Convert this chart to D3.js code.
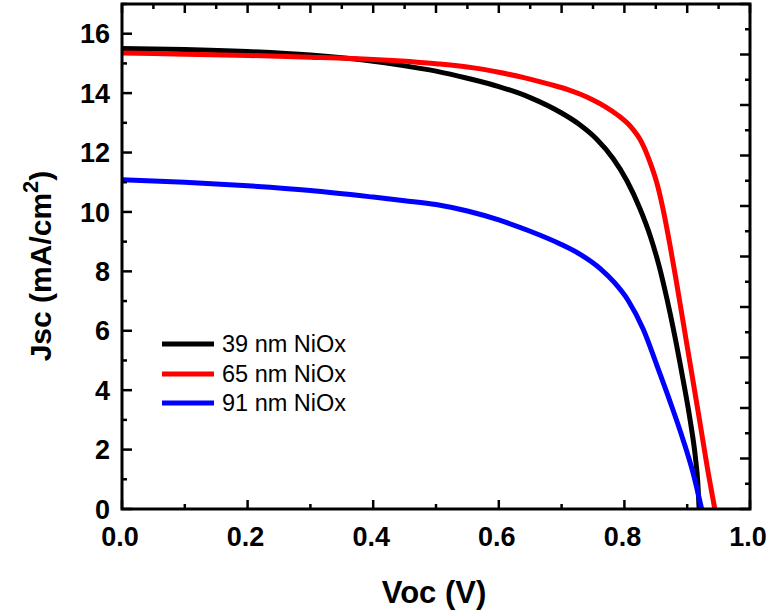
<!DOCTYPE html>
<html><head><meta charset="utf-8">
<script src="https://cdn.jsdelivr.net/npm/d3@7"></script>
<style>
body{margin:0;background:#fff;}
text{font-family:"Liberation Sans",Arial,sans-serif;}
</style></head>
<body><svg id="c" width="776" height="615"></svg>
<script>
const seriesNames = ["39 nm NiOx","65 nm NiOx","91 nm NiOx"];
const seriesColors = ["#000000","#ff0000","#0000ff"];
const black39 = [[0,15.50],[0.1,15.47],[0.2,15.40],[0.3,15.28],[0.4,15.07],[0.44,14.95],[0.5,14.74],[0.55,14.50],[0.6,14.22],[0.65,13.85],[0.70,13.33],[0.73,12.92],[0.756,12.45],[0.782,11.80],[0.804,11.05],[0.825,10.10],[0.841,9.20],[0.855,8.20],[0.868,7.05],[0.880,5.85],[0.893,4.40],[0.905,2.95],[0.913,1.75],[0.917,0.85],[0.919,0]];
const red65 = [[0,15.35],[0.1,15.31],[0.2,15.27],[0.3,15.21],[0.4,15.13],[0.5,14.99],[0.56,14.85],[0.6,14.70],[0.64,14.52],[0.68,14.30],[0.71,14.12],[0.73,13.96],[0.75,13.77],[0.77,13.54],[0.79,13.25],[0.81,12.87],[0.826,12.40],[0.84,11.72],[0.852,10.95],[0.862,10.05],[0.872,8.95],[0.882,7.75],[0.899,5.6],[0.92,2.95],[0.932,1.4],[0.944,0]];
const blue91 = [[0,11.08],[0.1,11.0],[0.2,10.88],[0.3,10.72],[0.4,10.5],[0.45,10.38],[0.5,10.25],[0.55,10.03],[0.6,9.73],[0.65,9.35],[0.697,8.93],[0.729,8.58],[0.761,8.10],[0.785,7.60],[0.806,7.02],[0.83,6.05],[0.852,4.82],[0.873,3.6],[0.893,2.36],[0.909,1.24],[0.923,0]];
const xTickLabels = ["0.0","0.2","0.4","0.6","0.8","1.0"];
const yTickLabels = ["0","2","4","6","8","10","12","14","16"];

const svg = d3.select("#c");
const L=122, R=750, T=4, B=509;
const x = d3.scaleLinear().domain([0,1]).range([L,R]);
const y = d3.scaleLinear().domain([0,17]).range([B,T]);
const data=[black39,red65,blue91];

const line = d3.line().x(d=>x(d[0])).y(d=>y(d[1])).curve(d3.curveMonotoneX);
const g = svg.append("g");
data.forEach((s,i)=>{
  g.append("path").attr("d",line(s)).attr("fill","none").attr("stroke",seriesColors[i])
   .attr("stroke-width",5).attr("stroke-linejoin","round").attr("stroke-linecap","butt");
});

const tickW=2.5;
d3.range(0,11).forEach(k=>{
  const v=k/10, major=k%2===0;
  svg.append("line").attr("x1",x(v)).attr("x2",x(v)).attr("y1",B).attr("y2",B-(major?9:5))
    .attr("stroke","#000").attr("stroke-width",tickW);
});
d3.range(0,21).forEach(k=>{
  const v=k/20, major=k%2===0;
  svg.append("line").attr("x1",x(v)).attr("x2",x(v)).attr("y1",T).attr("y2",T+(major?9:5))
    .attr("stroke","#000").attr("stroke-width",tickW);
});
d3.range(0,18).forEach(k=>{
  const major=k%2===0;
  svg.append("line").attr("x1",L).attr("x2",L+(major?10:5)).attr("y1",y(k)).attr("y2",y(k))
    .attr("stroke","#000").attr("stroke-width",tickW);
});
d3.range(0,21).forEach(k=>{
  const v=k*17/20, major=k%2===0;
  svg.append("line").attr("x1",R).attr("x2",R-(major?10:5)).attr("y1",y(v)).attr("y2",y(v))
    .attr("stroke","#000").attr("stroke-width",tickW);
});
svg.append("rect").attr("x",L).attr("y",T).attr("width",R-L).attr("height",B-T)
  .attr("fill","none").attr("stroke","#000").attr("stroke-width",3);

xTickLabels.forEach(t=>{
  svg.append("text").attr("x",x(+t)-2).attr("y",546).attr("text-anchor","middle")
    .attr("font-size",27).attr("font-weight","bold").text(t);
});
yTickLabels.forEach(t=>{
  svg.append("text").attr("x",110).attr("y",y(+t)).attr("dy","0.36em").attr("text-anchor","end")
    .attr("font-size",27).attr("font-weight","bold").text(t);
});
svg.append("text").attr("x",434).attr("y",603).attr("text-anchor","middle")
  .attr("font-size",31).attr("font-weight","bold").text("Voc (V)");
const yt = svg.append("text").attr("transform","translate(51,266) rotate(-90)").attr("text-anchor","middle")
  .attr("font-size",30).attr("font-weight","bold");
yt.append("tspan").text("Jsc (mA/cm");
yt.append("tspan").attr("font-size",22).attr("dy",-13).text("2");
yt.append("tspan").attr("dy",13).text(")");

const ly=[344,374,403];
seriesNames.forEach((n,i)=>{
  svg.append("line").attr("x1",162).attr("x2",214).attr("y1",ly[i]).attr("y2",ly[i])
    .attr("stroke",seriesColors[i]).attr("stroke-width",5);
  svg.append("text").attr("x",222).attr("y",ly[i]).attr("dy","0.36em").attr("font-size",23.5).text(n);
});
</script></body></html>
